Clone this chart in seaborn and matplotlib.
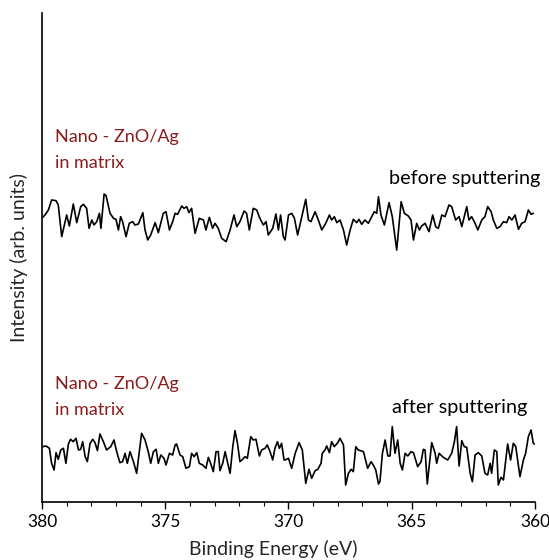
import matplotlib
matplotlib.use("Agg")
import matplotlib.pyplot as plt
import seaborn as sns
import pandas as pd
from matplotlib.ticker import MultipleLocator

# ── Data (intensity in arb. units) ──────────────────────────────────────────
before_ev = [
    379.97, 379.88, 379.74, 379.61, 379.43, 379.34, 379.20, 379.00, 378.89, 378.73,
    378.59, 378.43, 378.32, 378.19, 378.09, 377.98, 377.89, 377.78, 377.67, 377.61,
    377.48, 377.40, 377.24, 377.10, 377.00, 376.90, 376.81, 376.73, 376.59, 376.46,
    376.32, 376.23, 376.09, 375.91, 375.82, 375.71, 375.59, 375.41, 375.28, 375.08,
    374.97, 374.83, 374.70, 374.60, 374.50, 374.33, 374.24, 374.13, 374.04, 373.93,
    373.79, 373.62, 373.45, 373.35, 373.21, 373.08, 372.98, 372.85, 372.71, 372.53,
    372.37, 372.21, 372.10, 371.97, 371.80, 371.70, 371.59, 371.43, 371.29, 371.16,
    371.02, 370.91, 370.82, 370.64, 370.51, 370.41, 370.32, 370.21,
    370.14, 370.00, 369.87, 369.76, 369.63, 369.46, 369.30, 369.19, 369.09, 368.92,
    368.79, 368.65, 368.49, 368.34, 368.25, 368.14, 368.04, 367.91, 367.77, 367.64,
    367.50, 367.37, 367.23, 367.14, 367.03, 366.90, 366.76, 366.62, 366.52, 366.42,
    366.35, 366.25, 366.11, 365.92, 365.79, 365.61, 365.43, 365.30, 365.14, 365.03,
    364.93, 364.80, 364.69, 364.60, 364.46, 364.30, 364.15, 364.03, 363.92, 363.78,
    363.65, 363.49, 363.38, 363.22, 363.08, 362.97, 362.87, 362.77, 362.68, 362.57,
    362.43, 362.32, 362.16, 362.03, 361.92, 361.78, 361.69, 361.55, 361.42, 361.28,
    361.15, 361.05, 360.94, 360.81, 360.67, 360.54, 360.40, 360.27, 360.16, 360.07,
]
before_int = [
    854, 861, 876, 906, 904, 891, 796, 861, 828, 894,
    838, 886, 893, 881, 821, 846, 831, 841, 866, 821,
    924, 919, 866, 851, 848, 816, 856, 841, 796, 836,
    841, 831, 834, 868, 816, 786, 801, 838, 808, 866,
    871, 816, 841, 866, 863, 888, 881, 886, 868, 881,
    806, 851, 846, 816, 854, 821, 836, 821, 791, 781,
    816, 861, 826, 841, 873, 866, 816, 881, 876, 851,
    831, 841, 801, 821, 864, 816, 861, 796,
    786, 861, 866, 851, 801, 856, 908, 846, 841, 871,
    846, 816, 836, 861, 846, 856, 838, 846, 816, 771,
    816, 848, 838, 848, 833, 846, 836, 856, 871, 866,
    916, 861, 831, 898, 856, 756, 901, 866, 858, 846,
    786, 836, 816, 828, 836, 811, 861, 826, 821, 861,
    856, 891, 886, 846, 856, 826, 856, 886, 846, 856,
    836, 816, 846, 856, 886, 871, 846, 821, 826, 841,
    838, 856, 846, 861, 818, 836, 841, 876, 863, 866,
]

after_ev = [
    379.97, 379.84, 379.70, 379.61, 379.51, 379.43, 379.34, 379.24, 379.13, 379.03,
    378.93, 378.84, 378.73, 378.62, 378.52, 378.43, 378.35, 378.25, 378.16, 378.05,
    377.94, 377.85, 377.75, 377.65, 377.51, 377.38, 377.21, 377.08, 376.97, 376.84,
    376.73, 376.63, 376.54, 376.43, 376.29, 376.16, 375.96, 375.82, 375.69, 375.59,
    375.48, 375.37, 375.28, 375.18, 375.05, 374.97, 374.83, 374.70, 374.60, 374.54,
    374.40, 374.29, 374.16, 374.02, 373.93, 373.83, 373.72, 373.62, 373.48, 373.35,
    373.25, 373.16, 373.05, 372.94, 372.85, 372.78, 372.67, 372.57, 372.48, 372.37,
    372.26, 372.17, 372.07, 371.97, 371.86, 371.76, 371.67, 371.53, 371.43, 371.32,
    371.18, 371.09, 370.95, 370.86, 370.75, 370.64, 370.55, 370.45, 370.37, 370.28,
    370.18,
    370.14, 370.00, 369.87, 369.73, 369.57, 369.44, 369.30, 369.17, 369.06, 368.92,
    368.81, 368.68, 368.63, 368.52, 368.45, 368.34, 368.25, 368.14, 368.00, 367.91,
    367.77, 367.68, 367.57, 367.46, 367.37, 367.27, 367.17, 366.96, 366.79, 366.65,
    366.56, 366.46, 366.35, 366.29, 366.19, 366.08, 365.97, 365.88, 365.79, 365.68,
    365.57, 365.47, 365.38, 365.27, 365.16, 365.03, 364.93, 364.76, 364.62, 364.53,
    364.46, 364.37, 364.19, 364.05, 363.99, 363.89, 363.72, 363.54, 363.38, 363.27,
    363.18, 363.08, 362.97, 362.87, 362.77, 362.63, 362.54, 362.43, 362.30, 362.16,
    362.03, 361.92, 361.82, 361.76, 361.65, 361.55, 361.49, 361.38, 361.28, 361.11,
    360.99, 360.88, 360.78, 360.61, 360.47, 360.38, 360.27, 360.16, 360.07, 360.03,
]
after_int = [
    166, 168, 161, 116, 96, 148, 128, 156, 161, 116,
    174, 188, 181, 191, 156, 158, 181, 136, 121, 176,
    188, 178, 154, 204, 181, 156, 166, 186, 151, 118,
    121, 146, 116, 151, 121, 86, 206, 186, 151, 116,
    151, 158, 116, 141, 131, 111, 146, 141, 171, 174,
    141, 136, 101, 106, 146, 136, 148, 116, 111, 101,
    134, 116, 91, 151, 151, 94, 116, 151, 121, 86,
    166, 214, 176, 121, 128, 136, 131, 196, 186, 188,
    138, 156, 161, 171, 151, 126, 161, 181, 161, 176,
    126,
    126, 131, 101, 146, 178, 156, 56, 98, 71, 94,
    98, 116, 146, 156, 168, 148, 181, 166, 178, 191,
    171, 51, 86, 98, 91, 166, 156, 151, 101, 121,
    111, 96, 54, 61, 146, 186, 138, 138, 226, 146,
    186, 116, 96, 146, 138, 151, 148, 106, 121, 158,
    156, 54, 178, 146, 116, 146, 134, 126, 146, 181,
    226, 108, 184, 166, 164, 86, 61, 141, 148, 138,
    86, 81, 116, 86, 156, 151, 51, 74, 66, 174,
    126, 176, 166, 76, 126, 146, 196, 216, 176, 174,
]

sample_label = "Nano - ZnO/Ag\nin matrix"
before_label = "before sputtering"
after_label = "after sputtering"
x_ticks = [380, 375, 370, 365, 360]

df = pd.concat([
    pd.DataFrame({"ev": before_ev, "intensity": before_int, "state": before_label}),
    pd.DataFrame({"ev": after_ev, "intensity": after_int, "state": after_label}),
])

# ── Style ────────────────────────────────────────────────────────────────────
sns.set_style("ticks")
plt.rcParams["font.family"] = ["Lato", "DejaVu Sans"]

fig = plt.figure(figsize=(5.49, 5.60), dpi=100)
ax = fig.add_axes([0.0765, 0.1036, 0.898, 0.8732])

sns.lineplot(data=df, x="ev", y="intensity", units="state", estimator=None,
             sort=False, color="black", linewidth=1.2, ax=ax, legend=False)

ax.set_xlim(380, 360)
ax.set_ylim(0, 1467)
ax.set_xticks(x_ticks)
ax.xaxis.set_minor_locator(MultipleLocator(1))
ax.set_yticks([])
ax.tick_params(axis="x", which="major", length=5, width=1, direction="out",
               labelsize=12.5, pad=4, color="black", labelcolor="black")
ax.tick_params(axis="x", which="minor", length=3, width=0.8, direction="out",
               color="black")
for side in ["top", "right"]:
    ax.spines[side].set_visible(False)
for side in ["left", "bottom"]:
    ax.spines[side].set_color("black")
    ax.spines[side].set_linewidth(1.2)

ax.set_xlabel("Binding Energy (eV)", fontsize=14)
ax.set_ylabel("Intensity (arb. units)", fontsize=14, labelpad=10)
ax.xaxis.set_label_coords(0.47, -0.077)

# ── Annotations ──────────────────────────────────────────────────────────────
red = "#8b1a1a"
ax.text(0.027, 0.677, sample_label, transform=ax.transAxes, color=red,
        fontsize=13, linespacing=1.75, va="bottom", ha="left")
ax.text(0.027, 0.172, sample_label, transform=ax.transAxes, color=red,
        fontsize=13, linespacing=1.75, va="bottom", ha="left")
ax.text(1.01, 0.662, before_label, transform=ax.transAxes, color="black",
        fontsize=14.3, va="center", ha="right")
ax.text(0.985, 0.193, after_label, transform=ax.transAxes, color="black",
        fontsize=14.3, va="center", ha="right")

fig.savefig("out.png", dpi=100)
